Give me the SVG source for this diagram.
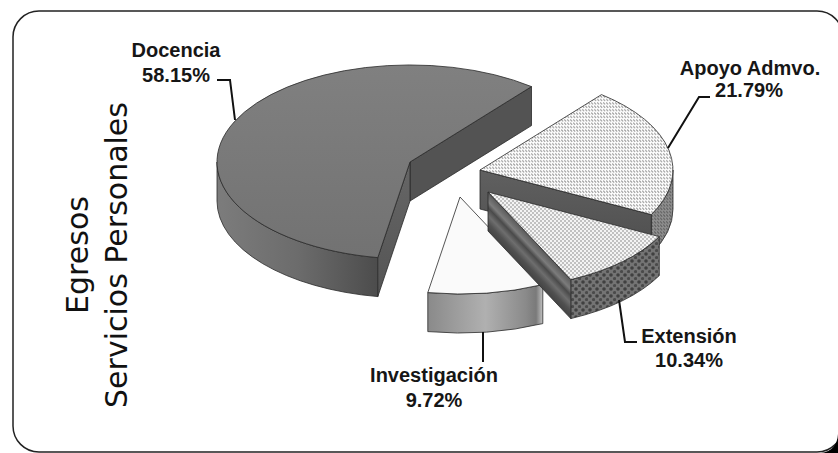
<svg xmlns="http://www.w3.org/2000/svg" width="838" height="453" viewBox="0 0 838 453">
  <style>
    .edge { stroke: #2a2a2a; stroke-width: 0.8; stroke-linejoin: round; }
    .lbl { font-family: "Liberation Sans", Arial, sans-serif; font-weight: bold; font-size: 20px; fill: #161616; text-anchor: middle; }
    .title { font-family: "DejaVu Sans", Verdana, sans-serif; font-size: 30px; fill: #111; text-anchor: middle; }
    .leader { fill: none; stroke: #111; stroke-width: 2; }
  </style>
  <defs>
    <pattern id="pApoyoTop" patternUnits="userSpaceOnUse" width="3" height="3.4">
      <rect width="3" height="3.4" fill="#ffffff"/>
      <path d="M0.2 0.4 L2.2 2.4" stroke="#9c9c9c" stroke-width="1.1"/>
    </pattern>
    <pattern id="pApoyoSide" patternUnits="userSpaceOnUse" width="3" height="3.4">
      <rect width="3" height="3.4" fill="#8e8e8e"/>
      <path d="M0.2 0.4 L2.2 2.4" stroke="#5a5a5a" stroke-width="1"/>
    </pattern>
    <pattern id="pExtTop" patternUnits="userSpaceOnUse" width="4" height="4">
      <rect width="4" height="4" fill="#f4f4f4"/>
      <circle cx="1" cy="1" r="1" fill="#b0b0b0"/>
      <circle cx="3" cy="3" r="1" fill="#b0b0b0"/>
    </pattern>
    <pattern id="pExtSide" patternUnits="userSpaceOnUse" width="7" height="7">
      <rect width="7" height="7" fill="#747474"/>
      <circle cx="2" cy="2" r="1.8" fill="#404040"/>
      <circle cx="5.5" cy="5.5" r="1.6" fill="#4a4a4a"/>
    </pattern>
    <linearGradient id="gDocTop" x1="0" y1="0" x2="0" y2="1">
      <stop offset="0" stop-color="#808080"/>
      <stop offset="1" stop-color="#727272"/>
    </linearGradient>
    <linearGradient id="gDocRim" gradientUnits="userSpaceOnUse" x1="217" y1="0" x2="378" y2="0">
      <stop offset="0" stop-color="#7c7c7c"/>
      <stop offset="0.5" stop-color="#6c6c6c"/>
      <stop offset="1" stop-color="#4c4c4c"/>
    </linearGradient>
    <linearGradient id="gDocFront" x1="0" y1="0" x2="0" y2="1">
      <stop offset="0" stop-color="#666666"/>
      <stop offset="1" stop-color="#545454"/>
    </linearGradient>
    <linearGradient id="gInvRim" gradientUnits="userSpaceOnUse" x1="428" y1="0" x2="543" y2="0">
      <stop offset="0" stop-color="#8a8a8a"/>
      <stop offset="0.5" stop-color="#b0b0b0"/>
      <stop offset="0.85" stop-color="#8a8a8a"/>
      <stop offset="0.94" stop-color="#7a7a7a"/>
      <stop offset="1" stop-color="#c4c4c4"/>
    </linearGradient>
    <linearGradient id="gExtFront" gradientUnits="userSpaceOnUse" x1="488" y1="192" x2="468.5" y2="210.4">
      <stop offset="0" stop-color="#5a5a5a"/>
      <stop offset="0.25" stop-color="#7c7c7c"/>
      <stop offset="0.4" stop-color="#4a4a4a"/>
      <stop offset="0.6" stop-color="#6e6e6e"/>
      <stop offset="0.8" stop-color="#505050"/>
      <stop offset="1" stop-color="#444444"/>
    </linearGradient>
    <linearGradient id="gApoyoFront" x1="0" y1="0" x2="0" y2="1">
      <stop offset="0" stop-color="#606060"/>
      <stop offset="1" stop-color="#4e4e4e"/>
    </linearGradient>
  </defs>

  <rect x="13" y="11" width="830" height="441" rx="26" ry="26" fill="#ffffff" stroke="#222" stroke-width="1.5"/>
  <path d="M838 434 Q837 451 821 453 L838 453 Z" fill="#000"/>

  <g id="title">
    <text class="title" transform="translate(88,255) rotate(-90)">Egresos</text>
    <text class="title" transform="translate(127,255) rotate(-90)">Servicios Personales</text>
  </g>

  <g id="docencia">
    <path class="edge" d="M377.8 257.6 A193 97 0 0 1 217 162 L217 201 A193 97 0 0 0 377.8 296.6 Z" fill="url(#gDocRim)"/>
    <path class="edge" d="M410 162 L531.5 86.6 L531.5 125.6 L410 201 Z" fill="#535353"/>
    <path class="edge" d="M410 162 L377.8 257.6 L377.8 296.6 L410 201 Z" fill="url(#gDocFront)"/>
    <path class="edge" d="M410 162 L377.8 257.6 A193 97 0 1 1 531.5 86.6 Z" fill="url(#gDocTop)"/>
  </g>

  <g id="apoyo">
    <path class="edge" d="M673 170 A193 97 0 0 1 651.3 214.6 L651.3 253.6 A193 97 0 0 0 673 209 Z" fill="url(#pApoyoSide)"/>
    <path class="edge" d="M480 170 L651.3 214.6 L651.3 253.6 L480 209 Z" fill="url(#gApoyoFront)"/>
    <path class="edge" d="M480 170 L601.5 94.6 A193 97 0 0 1 651.3 214.6 Z" fill="url(#pApoyoTop)"/>
  </g>

  <g id="investigacion">
    <path class="edge" d="M542.8 284.6 A193 97 0 0 1 427.8 292.6 L427.8 331.6 A193 97 0 0 0 542.8 323.6 Z" fill="url(#gInvRim)"/>
    <path class="edge" d="M460 197 L542.8 284.6 A193 97 0 0 1 427.8 292.6 Z" fill="#fafafa"/>
  </g>

  <g id="extension">
    <path class="edge" d="M659.3 236.6 A193 97 0 0 1 570.8 279.6 L570.8 318.6 A193 97 0 0 0 659.3 275.6 Z" fill="url(#pExtSide)"/>
    <path class="edge" d="M488 192 L570.8 279.6 L570.8 318.6 L488 231 Z" fill="url(#gExtFront)"/>
    <path class="edge" d="M488 192 L659.3 236.6 A193 97 0 0 1 570.8 279.6 Z" fill="url(#pExtTop)"/>
  </g>

  <g id="connectors">
    <path class="leader" d="M217 80 L230 80 L235 120"/>
    <path class="leader" d="M668 148 L699 97 L710 97"/>
    <path class="leader" d="M619 300 L625 342 L637 342"/>
    <path class="leader" d="M483 332 L483 362"/>
  </g>

  <g id="label-docencia">
    <text class="lbl" x="176" y="57">Docencia</text>
    <text class="lbl" x="176" y="82">58.15%</text>
  </g>
  <g id="label-apoyo">
    <text class="lbl" x="750" y="75">Apoyo Admvo.</text>
    <text class="lbl" x="749" y="97">21.79%</text>
  </g>
  <g id="label-extension">
    <text class="lbl" x="689" y="343">Extensión</text>
    <text class="lbl" x="689" y="367">10.34%</text>
  </g>
  <g id="label-investigacion">
    <text class="lbl" x="434" y="382">Investigación</text>
    <text class="lbl" x="434" y="407">9.72%</text>
  </g>
</svg>
